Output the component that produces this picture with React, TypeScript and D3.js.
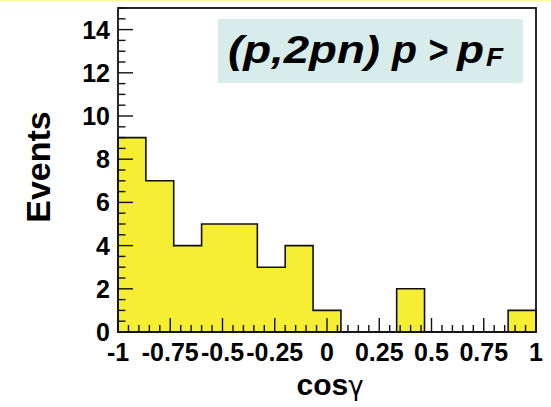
import React from "react";
import * as d3 from "d3";

// Histogram of cos(gamma): counts per bin, 15 equal bins over [-1, 1]
const xDomain: [number, number] = [-1, 1];
const binCount = 15;
const counts = [9, 7, 4, 5, 5, 3, 4, 1, 0, 0, 2, 0, 0, 0, 1];

const xTickValues = [-1, -0.75, -0.5, -0.25, 0, 0.25, 0.5, 0.75, 1];
const xTickLabels = ["-1", "-0.75", "-0.5", "-0.25", "0", "0.25", "0.5", "0.75", "1"];
const yTickValues = [0, 2, 4, 6, 8, 10, 12, 14];

const W = 551;
const H = 407;
const frame = { left: 118, top: 8, right: 536, bottom: 332 };
const font = "'Liberation Sans', Arial, Helvetica, sans-serif";
const fill = "#f5ee33";

export default function App() {
  const x = d3.scaleLinear().domain(xDomain).range([frame.left, frame.right]);
  const y = d3.scaleLinear().domain([0, 15]).range([frame.bottom, frame.top]);

  const step = (xDomain[1] - xDomain[0]) / binCount;
  const edges = d3.range(binCount + 1).map((i) => xDomain[0] + i * step);

  // Step outline of the histogram
  const path = d3.path();
  path.moveTo(x(edges[0]), y(0));
  counts.forEach((c, i) => {
    path.lineTo(x(edges[i]), y(c));
    path.lineTo(x(edges[i + 1]), y(c));
  });
  path.lineTo(x(edges[binCount]), y(0));
  path.closePath();

  const xMinor = d3.range(-1, 1.0001, 0.05).map((v) => Math.round(v * 100) / 100);
  const yMinor = d3.range(0, 15.0001, 0.5);

  return (
    <div style={{ position: "absolute", left: 0, top: 0 }}>
      <svg width={W} height={H} style={{ display: "block", background: "#fff" }}>
        <rect x={0} y={0} width={W} height={1.5} fill="#fdf7a0" />

        <path d={path.toString()} fill={fill} stroke="#111" strokeWidth={1.6} />

        {/* x-axis ticks */}
        {xMinor.map((v, i) => {
          const major = Math.abs(v * 4 - Math.round(v * 4)) < 1e-6;
          return (
            <line
              key={"xm" + i}
              x1={x(v)}
              x2={x(v)}
              y1={frame.bottom}
              y2={frame.bottom - (major ? 14 : 7)}
              stroke="#111"
              strokeWidth={1.4}
            />
          );
        })}
        {/* y-axis ticks */}
        {yMinor.map((v, i) => {
          const major = v % 2 === 0;
          return (
            <line
              key={"ym" + i}
              x1={frame.left}
              x2={frame.left + (major ? 15 : 7.5)}
              y1={y(v)}
              y2={y(v)}
              stroke="#111"
              strokeWidth={1.4}
            />
          );
        })}

        <rect
          x={frame.left}
          y={frame.top}
          width={frame.right - frame.left}
          height={frame.bottom - frame.top}
          fill="none"
          stroke="#111"
          strokeWidth={1.8}
        />

        {/* tick labels */}
        {yTickValues.map((v) => (
          <text
            key={"yl" + v}
            x={110}
            y={y(v)}
            dy="0.36em"
            textAnchor="end"
            fontFamily={font}
            fontWeight="bold"
            fontSize={25}
            fill="#000"
          >
            {v}
          </text>
        ))}
        {xTickValues.map((v, i) => (
          <text
            key={"xl" + i}
            x={x(v)}
            y={361}
            textAnchor="middle"
            fontFamily={font}
            fontWeight="bold"
            fontSize={25}
            fill="#000"
          >
            {xTickLabels[i]}
          </text>
        ))}

        {/* axis titles */}
        <text
          transform="translate(50,167) rotate(-90)"
          textAnchor="middle"
          fontFamily={font}
          fontWeight="bold"
          fontSize={34}
          fill="#000"
        >
          Events
        </text>
        <text x={330} y={395} textAnchor="middle" fontFamily={font} fontSize={30} fill="#000">
          <tspan fontWeight="bold">cos</tspan>
          <tspan fontFamily="'DejaVu Sans', sans-serif" fontSize={26}>γ</tspan>
        </text>

        {/* reaction label */}
        <rect x={218} y={19} width={305} height={64} fill="#d8ecec" />
        <g fontFamily={font} fontWeight="bold" fontStyle="italic" fill="#000">
          <text x={228} y={63} fontSize={38} textLength={152} lengthAdjust="spacingAndGlyphs">
            (p,2pn)
          </text>
          <text x={392} y={63} fontSize={38} textLength={25} lengthAdjust="spacingAndGlyphs">
            p
          </text>
          <text x={428} y={63} fontSize={38} textLength={20} lengthAdjust="spacingAndGlyphs">
            &gt;
          </text>
          <text x={457} y={63} fontSize={38} textLength={27} lengthAdjust="spacingAndGlyphs">
            p
          </text>
          <text x={486} y={66} fontSize={25} textLength={17} lengthAdjust="spacingAndGlyphs">
            F
          </text>
        </g>
      </svg>
    </div>
  );
}
